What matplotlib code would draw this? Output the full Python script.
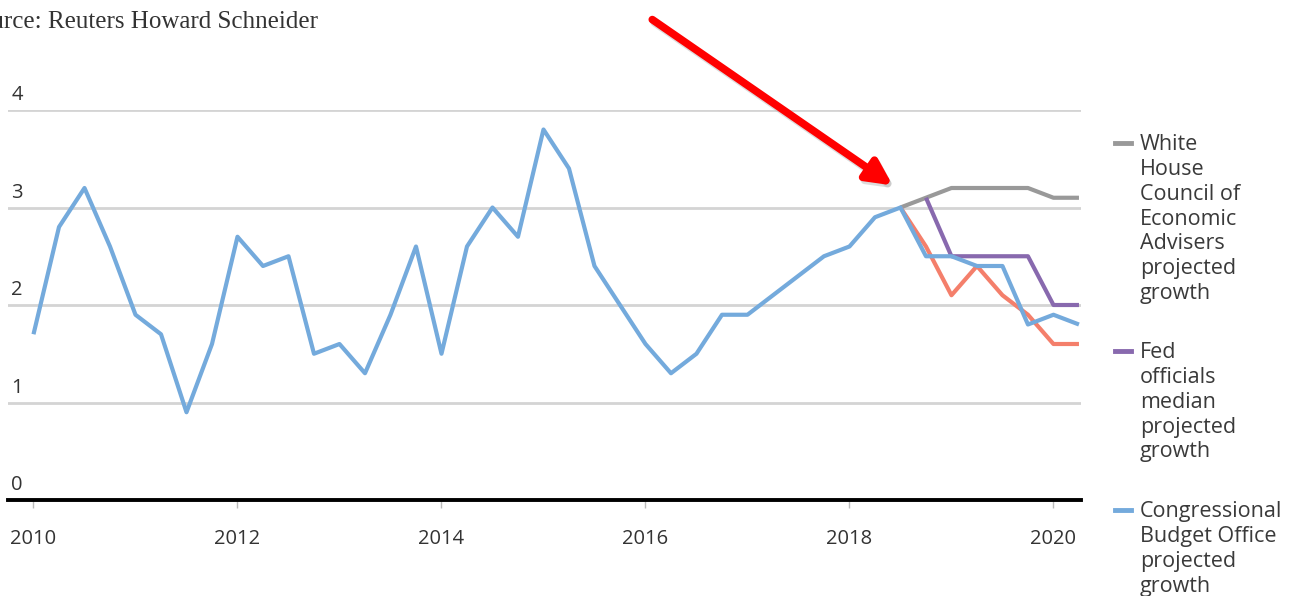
import numpy as np
import matplotlib.pyplot as plt
from matplotlib.patches import FancyArrowPatch

# quarterly GDP growth, actual (blue) then CBO projection
hist_start = 2010.0
blue_vals = [1.7, 2.8, 3.2, 2.6, 1.9, 1.7, 0.9, 1.6,
             2.7, 2.4, 2.5, 1.5, 1.6, 1.3, 1.9, 2.6,
             1.5, 2.6, 3.0, 2.7, 3.8, 3.4, 2.4, 2.0,
             1.6, 1.3, 1.5, 1.9, 1.9, 2.1, 2.3, 2.5,
             2.6, 2.9, 3.0, 2.5, 2.5, 2.4, 2.4, 1.8,
             1.9, 1.8]

# projections
wh_start = 2018.5
wh_vals = [3.0, 3.1, 3.2, 3.2, 3.2, 3.2, 3.1, 3.1]
fed_start = 2018.75
fed_vals = [3.1, 2.5, 2.5, 2.5, 2.5, 2.0, 2.0]
red_start = 2018.5
red_vals = [3.0, 2.6, 2.1, 2.4, 2.1, 1.9, 1.6, 1.6]

legend_labels = ['White\nHouse\nCouncil of\nEconomic\nAdvisers\nprojected\ngrowth',
                 'Fed\nofficials\nmedian\nprojected\ngrowth',
                 'Congressional\nBudget Office\nprojected\ngrowth']

BLUE = '#74aadc'
GRAY = '#999999'
PURPLE = '#8869ae'
RED = '#f47f6b'


def qx(start, vals):
    return start + 0.25 * np.arange(len(vals))


fig = plt.figure(figsize=(12.91, 5.96), dpi=100)
ax = fig.add_axes([8 / 1291, 96 / 596, 1073 / 1291, 390 / 596])

ax.plot(qx(wh_start, wh_vals), wh_vals, color=GRAY, lw=3, solid_capstyle='butt', zorder=3)
ax.plot(qx(fed_start, fed_vals), fed_vals, color=PURPLE, lw=3, solid_capstyle='butt', zorder=3)
ax.plot(qx(red_start, red_vals), red_vals, color=RED, lw=3, solid_capstyle='butt', zorder=3)
ax.plot(qx(hist_start, blue_vals), blue_vals, color=BLUE, lw=3, solid_capstyle='butt', zorder=4)

ax.set_xlim(2009.75, 2020.27)
ax.set_ylim(0, 4)

for v in [1, 2, 3, 4]:
    ax.axhline(v, color='#d4d4d4', lw=2, zorder=1)
ax.axhline(0, color='black', lw=2.8, zorder=5, clip_on=False)

for s in ax.spines.values():
    s.set_visible(False)

ax.set_yticks([])
for v in [0, 1, 2, 3, 4]:
    ax.text(0.003, v + 0.05, str(v), transform=ax.get_yaxis_transform(),
            ha='left', va='bottom', fontsize=14.5, color='#333333', family='Open Sans')

ax.set_xticks([2010, 2012, 2014, 2016, 2018, 2020])
ax.set_xticklabels(['2010', '2012', '2014', '2016', '2018', '2020'],
                   fontsize=14.5, color='#333333', family='Open Sans')
ax.tick_params(axis='x', length=6, width=1, color='#bbbbbb', pad=15)

# legend drawn as text on the right
leg_y = [143, 351, 510]
leg_colors = [GRAY, PURPLE, BLUE]
for y, c, lab in zip(leg_y, leg_colors, legend_labels):
    fig.add_artist(plt.Line2D([1115 / 1291, 1131 / 1291], [1 - y / 596, 1 - y / 596],
                              color=c, lw=3.5, transform=fig.transFigure))
    fig.text(1140 / 1291, 1 - (y - 9) / 596, lab, ha='left', va='top',
             fontsize=15.5, color='#3a3a3a', family='Open Sans', linespacing=1.24)

fig.text(-0.027, 1 - 28 / 596, 'Source: Reuters Howard Schneider', ha='left', va='baseline',
         fontsize=18, color='#333333', family='Liberation Serif')

# red arrow with a soft shadow
arrow_kw = dict(arrowstyle='-|>,head_length=1.5,head_width=0.75', lw=5.5, mutation_scale=10)
fig.patches.append(FancyArrowPatch(
    (652 / 1291, 1 - 21 / 596), (897 / 1291, 1 - 190 / 596), transform=fig.transFigure,
    color='#bbbbbb', alpha=0.5, **arrow_kw))
fig.patches.append(FancyArrowPatch(
    (650 / 1291, 1 - 18 / 596), (895 / 1291, 1 - 187 / 596), transform=fig.transFigure,
    color='#ff0000', **arrow_kw))

fig.savefig('out.png', dpi=100)
